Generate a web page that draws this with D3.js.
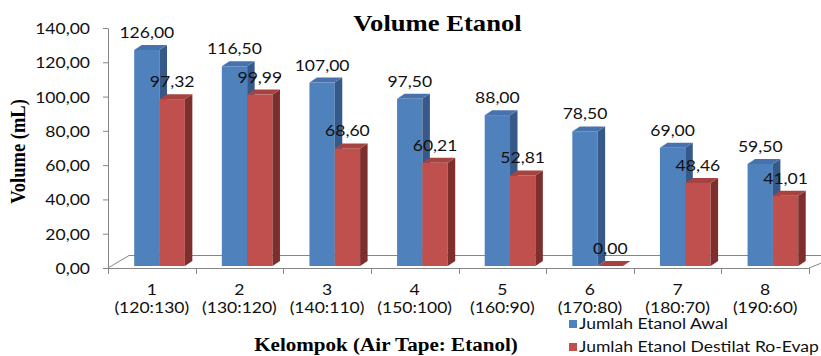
<!DOCTYPE html>
<html>
<head>
<meta charset="utf-8">
<script src="https://cdn.jsdelivr.net/npm/d3@7"></script>
<style>
  html, body { margin: 0; padding: 0; background: #ffffff; }
  svg { display: block; }
</style>
</head>
<body>
<svg id="chart" width="821" height="356"></svg>
<script>
// ---- data ----
const categories = ["1", "2", "3", "4", "5", "6", "7", "8"];
const ratios = ["(120:130)", "(130:120)", "(140:110)", "(150:100)", "(160:90)", "(170:80)", "(180:70)", "(190:60)"];
const seriesNames = ["Jumlah Etanol Awal", "Jumlah Etanol Destilat Ro-Evap"];
const awal = [126.00, 116.50, 107.00, 97.50, 88.00, 78.50, 69.00, 59.50];
const destilat = [97.32, 99.99, 68.60, 60.21, 52.81, 0.00, 48.46, 41.01];
const yTicks = [0, 20, 40, 60, 80, 100, 120, 140];

const titleText = "Volume Etanol";
const yTitleText = "Volume (mL)";
const xTitleText = "Kelompok (Air Tape: Etanol)";

// ---- styling ----
const sans = "Lato, 'Open Sans', sans-serif";
const serif = "'Liberation Serif', 'Times New Roman', serif";
const sansSize = 14.5, sansSX = 1.21;
const serifSX = 1.11;
const axisColor = "#868686";
const palette = [
  { front: "#4F81BD", side: "#36598A", top: "#4673AD" },
  { front: "#C0504D", side: "#7D2F2D", top: "#A64340" }
];
const depthX = 7.5, depthY = 5, baseLift = 2;

const fmt = d3.formatLocale({ decimal: ",", thousands: ".", grouping: [3], currency: ["", ""] }).format(".2f");

const svg = d3.select("#chart");

// ---- scales ----
const x = d3.scaleBand().domain(categories).range([108, 809]).paddingInner(0).paddingOuter(0);
const bw = x.bandwidth();
const xs = d3.scaleBand().domain([0, 1]).range([0.299 * bw, 0.877 * bw]).padding(0);
const y = d3.scaleLinear().domain([0, 140]).range([268, 28]);

// ---- floor (3D base plane) ----
const floor = svg.append("g").attr("stroke", axisColor).attr("stroke-width", 1).attr("fill", "none");
const x0 = x.range()[0], x1 = x.range()[1], yb = y(0);
floor.append("path").attr("d", `M${x0},${yb}L${x0 + 21},${yb - 12.5}L840,${yb - 12.5}`);
floor.append("path").attr("d", `M${x1},${yb}L${x1 + 30},${yb - 12}`);

// ---- y axis ----
const yAxis = svg.append("g")
  .attr("transform", `translate(${x0},0)`)
  .call(d3.axisLeft(y).tickValues(yTicks).tickSize(5).tickSizeOuter(0).tickFormat(fmt));
yAxis.select(".domain").attr("stroke", axisColor);
yAxis.selectAll(".tick line").attr("stroke", axisColor);
yAxis.selectAll(".tick text")
  .attr("x", 0)
  .attr("dy", "0.38em")
  .attr("transform", `translate(-18,0) scale(${sansSX},1)`)
  .attr("font-family", sans)
  .attr("font-size", sansSize)
  .attr("fill", "#111");

// ---- x axis line with boundary ticks ----
const xAxis = svg.append("g").attr("stroke", axisColor).attr("stroke-width", 1);
xAxis.append("line").attr("x1", x0 - 5).attr("x2", x1).attr("y1", yb + 0.5).attr("y2", yb + 0.5);
const boundaries = categories.map(c => x(c)).concat([x1]);
xAxis.selectAll("line.b").data(boundaries).join("line")
  .attr("class", "b")
  .attr("x1", d => Math.round(d) + 0.5).attr("x2", d => Math.round(d) + 0.5)
  .attr("y1", yb).attr("y2", yb + 6);

// ---- 3D columns ----
const seriesData = [awal, destilat];
const bars = svg.append("g");
const base = yb - baseLift;
const w = xs.bandwidth();
categories.forEach((c, i) => {
  seriesData.forEach((vals, s) => {
    const v = vals[i];
    const bx = x(c) + xs(s);
    const top = y(v) - baseLift;
    const col = palette[s];
    const g = bars.append("g");
    g.append("rect").attr("x", bx).attr("y", top).attr("width", w).attr("height", Math.max(0, base - top))
      .attr("fill", col.front);
    g.append("path")
      .attr("d", `M${bx + w},${top}L${bx + w + depthX},${top - depthY}L${bx + w + depthX},${base - depthY}L${bx + w},${base}Z`)
      .attr("fill", col.side);
    g.append("path")
      .attr("d", `M${bx},${top}L${bx + depthX},${top - depthY}L${bx + w + depthX},${top - depthY}L${bx + w},${top}Z`)
      .attr("fill", col.top);
  });
});

// ---- data labels ----
const labels = svg.append("g").attr("font-family", sans).attr("font-size", sansSize).attr("fill", "#111")
  .attr("text-anchor", "middle");
categories.forEach((c, i) => {
  seriesData.forEach((vals, s) => {
    const v = vals[i];
    const cx = x(c) + xs(s) + w / 2;
    const ty = y(v) - baseLift - 12;
    labels.append("text").attr("transform", `translate(${cx},${ty}) scale(${sansSX},1)`).text(fmt(v));
  });
});

// ---- category labels ----
const catG = svg.append("g").attr("font-family", sans).attr("font-size", sansSize).attr("fill", "#111")
  .attr("text-anchor", "middle");
categories.forEach((c, i) => {
  const cx = x(c) + bw / 2;
  catG.append("text").attr("transform", `translate(${cx},295) scale(${sansSX},1)`).text(c);
  catG.append("text").attr("transform", `translate(${cx},313) scale(${sansSX},1)`).text(ratios[i]);
});

// ---- titles ----
svg.append("text")
  .attr("transform", `translate(437.5,31) scale(${serifSX},1)`)
  .attr("text-anchor", "middle")
  .attr("font-family", serif).attr("font-weight", "bold").attr("font-size", 24)
  .text(titleText);

svg.append("text")
  .attr("transform", `translate(386,351) scale(${serifSX},1)`)
  .attr("text-anchor", "middle")
  .attr("font-family", serif).attr("font-weight", "bold").attr("font-size", 19)
  .text(xTitleText);

svg.append("text")
  .attr("transform", `translate(25,151.5) rotate(-90) scale(1,${serifSX})`)
  .attr("text-anchor", "middle")
  .attr("font-family", serif).attr("font-weight", "bold").attr("font-size", 18.5)
  .text(yTitleText);

// ---- legend ----
const legend = svg.append("g").attr("font-family", sans).attr("font-size", sansSize).attr("fill", "#111");
seriesNames.forEach((name, s) => {
  const ly = 324 + s * 23;
  legend.append("rect").attr("x", 569).attr("y", ly - 4).attr("width", 8).attr("height", 8)
    .attr("fill", palette[s].front);
  legend.append("text").attr("transform", `translate(579,${ly + 4.5}) scale(${sansSX},1)`).text(name);
});
</script>
</body>
</html>
